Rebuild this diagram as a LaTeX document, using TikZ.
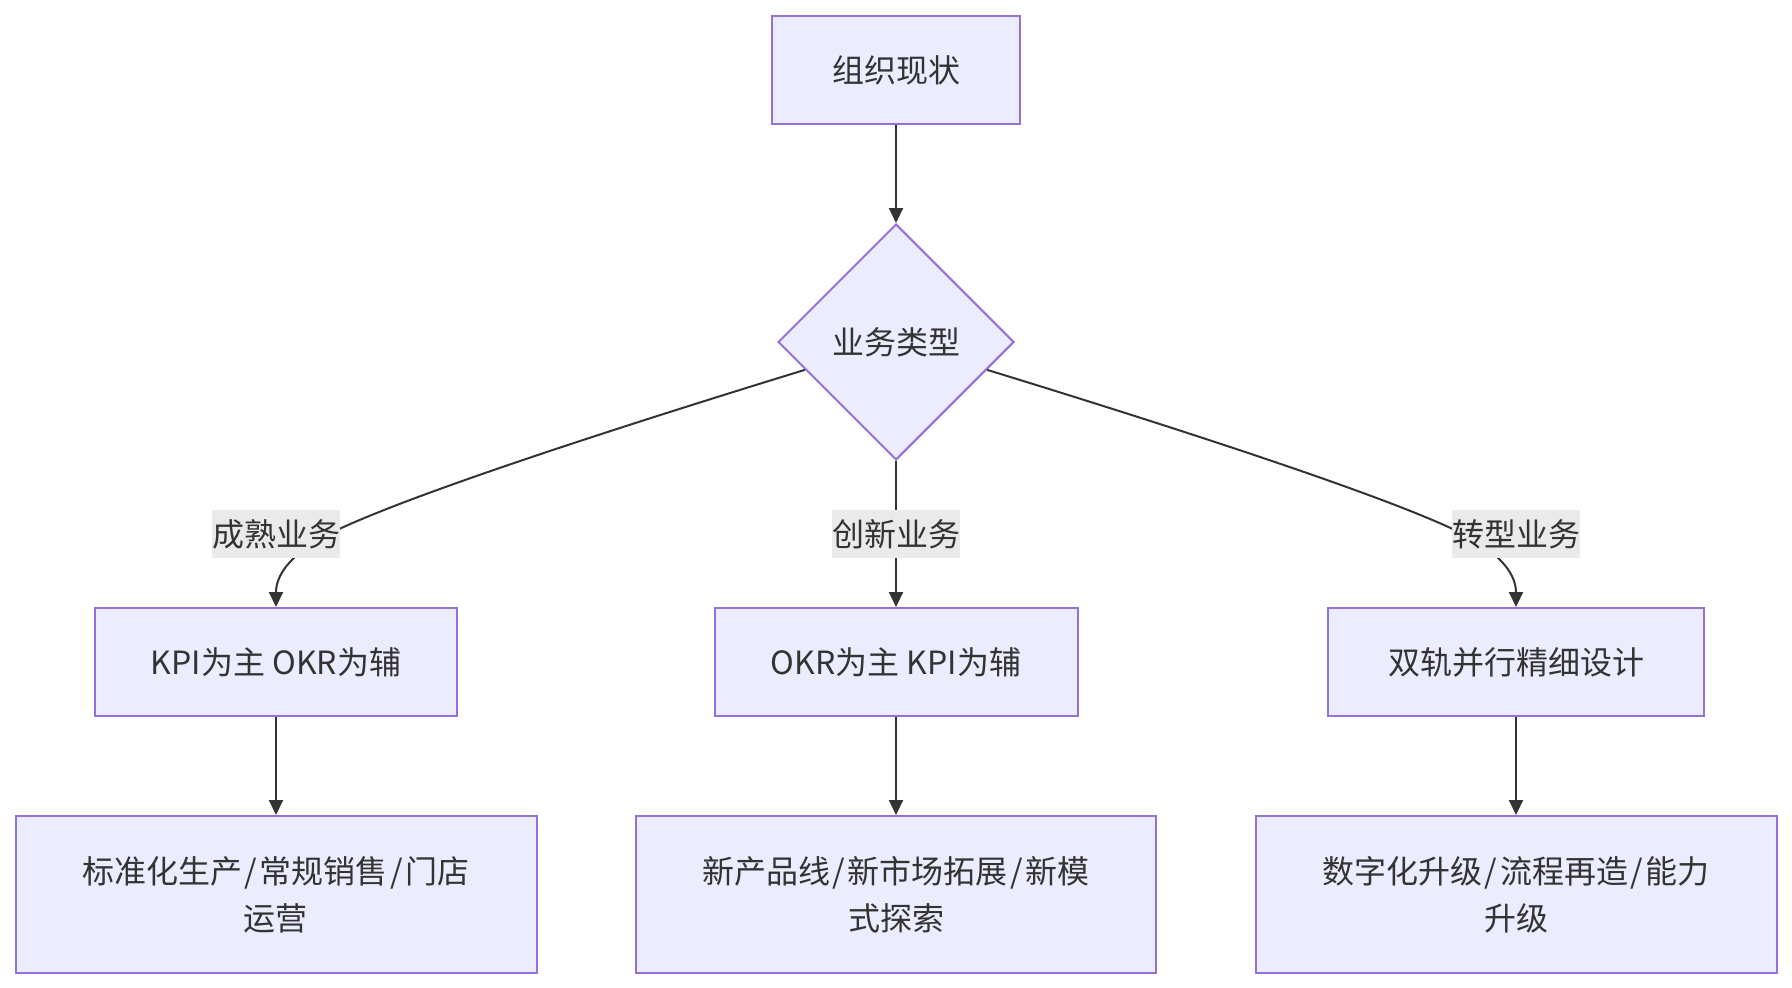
\documentclass[tikz,border=0pt]{standalone}
\usepackage{fontspec}
\setmainfont{Noto Sans CJK SC}
\usetikzlibrary{shapes.geometric,arrows.meta}
\definecolor{boxfill}{HTML}{ECECFF}
\definecolor{boxline}{HTML}{9370DB}
\definecolor{ink}{HTML}{333333}
\definecolor{lblbg}{HTML}{EAEAEA}
\newcommand{\slsep}{\kern2.5pt/\kern2.5pt}
\begin{document}
\begin{tikzpicture}[x=1pt,y=-1pt,
  box/.style={draw=boxline,fill=boxfill,line width=2pt,text=ink,font=\fontsize{32}{47}\selectfont,align=center,inner sep=0pt},
  dia/.style={diamond,aspect=1,draw=boxline,fill=boxfill,line width=2pt,text=ink,font=\fontsize{32}{40}\selectfont,minimum size=236pt,inner sep=0pt},
  conn/.style={draw=ink,line width=2pt,-{Triangle[length=15pt,width=14pt]}},
  lbl/.style={fill=lblbg,text=ink,font=\fontsize{32}{40}\selectfont,inner xsep=0pt,inner ysep=0pt,minimum height=48pt}]
\useasboundingbox (0,0) rectangle (1792,988);
\node[box,minimum width=248pt,minimum height=108pt] (top) at (896,70) {组织现状};
\node[dia] (d) at (896,342) {业务类型};
\node[box,minimum width=362pt,minimum height=108pt] (m1) at (276,662) {KPI为主 OKR为辅};
\node[box,minimum width=363pt,minimum height=108pt] (m2) at (896,662) {OKR为主 KPI为辅};
\node[box,minimum width=376pt,minimum height=108pt] (m3) at (1516,662) {双轨并行精细设计};
\node[box,minimum width=521pt,minimum height=157pt] (b1) at (276,894.5) {标准化生产\slsep 常规销售\slsep 门店\\运营};
\node[box,minimum width=520pt,minimum height=157pt] (b2) at (896,894.5) {新产品线\slsep 新市场拓展\slsep 新模\\式探索};
\node[box,minimum width=521pt,minimum height=157pt] (b3) at (1516,894.5) {数字化升级\slsep 流程再造\slsep 能力\\升级};
\draw[conn] (top.south) -- (d.north);
\draw[conn] (d.197) .. controls (560,445) and (368,510) .. (318,540) .. controls (290,557) and (276,575) .. (m1.north);
\draw[conn] (d.south) -- (m2.north);
\draw[conn] (d.-17) .. controls (1232,445) and (1424,510) .. (1474,540) .. controls (1502,557) and (1516,575) .. (m3.north);
\node[lbl] (l1) at (276,534) {成熟业务};
\node[lbl] (l2) at (896,534) {创新业务};
\node[lbl] (l3) at (1516,534) {转型业务};
\draw[conn] (m1.south) -- (b1.north);
\draw[conn] (m2.south) -- (b2.north);
\draw[conn] (m3.south) -- (b3.north);
\end{tikzpicture}
\end{document}
